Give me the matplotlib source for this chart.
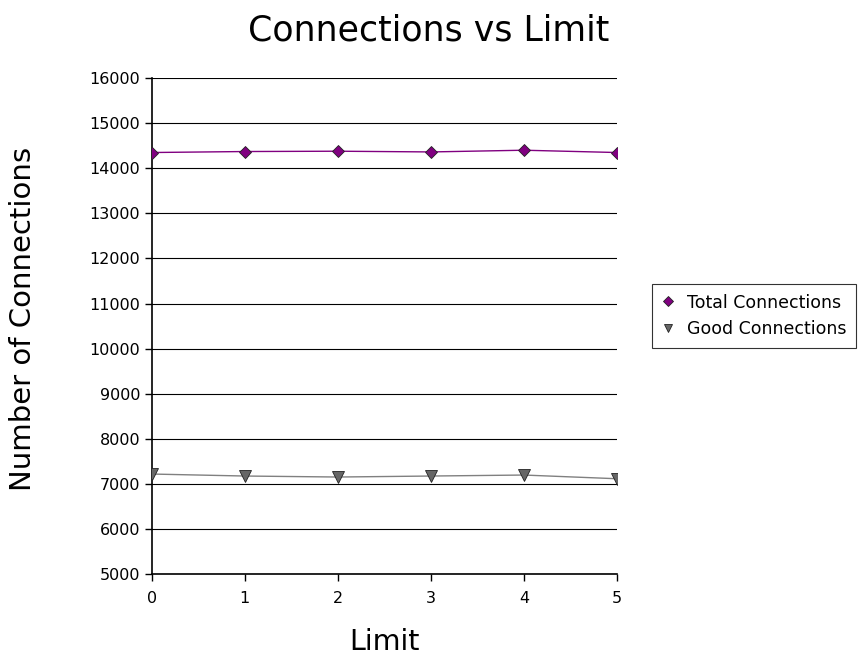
from matplotlib import pyplot as plt
import numpy as np

limit = [0, 1, 2, 3, 4, 5]
total = [14349, 14371, 14378, 14362, 14400, 14349]
good = [7222, 7178, 7156, 7178, 7200, 7118]

fig = plt.figure(figsize=(8.58, 6.67), dpi=100)
ax = fig.add_axes([0.177, 0.139, 0.542, 0.744])

ax.plot(limit, total, color='#800080', lw=1, marker='D', ms=6,
        mfc='#800080', mec='#222222', mew=0.6, label='Total Connections', zorder=3)
ax.plot(limit, good, color='#808080', lw=1, marker='v', ms=8,
        mfc='#666666', mec='#222222', mew=0.6, label='Good Connections', zorder=3)

ax.set_xlim(0, 5)
ax.set_ylim(5000, 16000)
ax.set_xticks(limit)
ax.set_yticks(np.arange(5000, 16001, 1000))
ax.yaxis.grid(True, color='black', lw=0.8)
ax.set_axisbelow(True)
for s in ['top', 'right']:
    ax.spines[s].set_visible(False)
ax.spines['left'].set_linewidth(1.2)
ax.spines['bottom'].set_linewidth(1.2)
ax.tick_params(labelsize=11.5, direction='out', length=5, width=1)
ax.tick_params(axis='x', pad=7)
ax.set_xlabel("Limit", fontsize=20.5)
ax.set_ylabel("Number of Connections", fontsize=21)
ax.xaxis.set_label_coords(0.5, -0.109)
ax.yaxis.set_label_coords(-0.247, 0.515)
fig.text(0.5, 0.955, "Connections vs Limit", fontsize=25, ha='center', va='center')

leg = ax.legend(loc='upper left', bbox_to_anchor=(1.075, 0.585), fontsize=12.5,
                frameon=True, fancybox=False, borderaxespad=0, handlelength=0.8,
                handletextpad=0.7, labelspacing=0.5, markerscale=0.8,
                borderpad=0.55)
leg.get_frame().set_edgecolor('black')
leg.get_frame().set_linewidth(0.8)
for h in leg.get_lines():
    h.set_linestyle('none')

fig.savefig("out.png", dpi=100)
